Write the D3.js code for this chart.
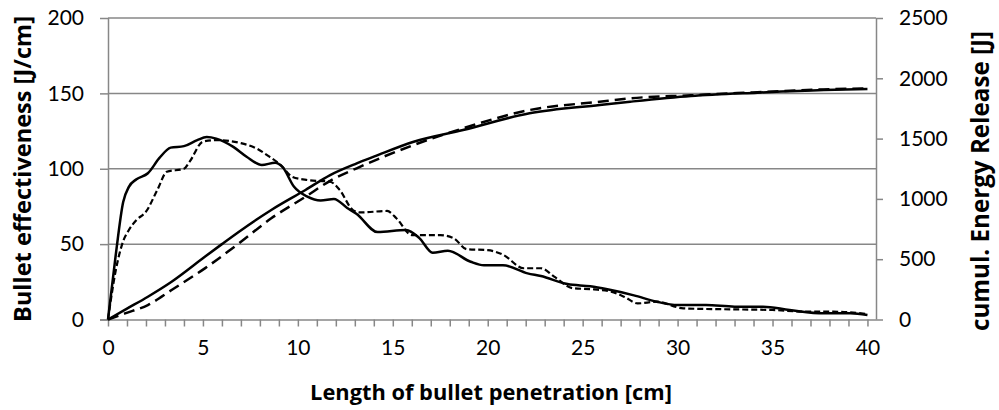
<!DOCTYPE html>
<html>
<head>
<meta charset="utf-8">
<script src="https://cdn.jsdelivr.net/npm/d3@7"></script>
<style>
  body { margin: 0; background: #fff; }
  svg text { font-family: Lato, "Open Sans", sans-serif; fill: #000; }
</style>
</head>
<body>
<div id="chart"></div>
<script>
// effectiveness [J/cm], solid curve: [depth cm, value]
var effSolid = [
    [0, 0], [0.4, 42], [0.8, 78], [1.1, 88], [1.5, 93], [2.1, 97], [2.7, 107],
    [3.3, 114], [4.0, 115], [4.7, 119], [5.2, 121], [5.7, 120], [6.6, 114.5],
    [7.3, 108], [8.1, 102.5], [8.8, 104], [9.2, 101], [9.8, 88], [10.5, 81.5],
    [11.2, 79], [11.9, 80], [12.6, 74], [13.1, 70], [14.2, 58], [15.7, 59.4],
    [16.4, 54], [17.1, 44.3], [17.9, 45.6], [19.1, 38.3], [19.8, 36], [20.8, 36],
    [22.1, 30.6], [22.8, 28.8], [24.2, 23.5], [25.4, 22], [26.3, 20], [27.7, 16],
    [28.9, 11.8], [30, 9.6], [31.5, 9.6], [33, 8.5], [34.5, 8.5], [35.9, 6.3],
    [37.7, 4.1], [39.1, 4.1], [40, 3]
];

// effectiveness [J/cm], short-dashed curve
var effDashed = [
    [0, 0], [0.4, 32], [0.8, 52], [1.1, 59.4], [1.5, 66], [2.0, 71.5], [2.6, 86],
    [3.1, 98], [4.0, 100], [4.3, 104.7], [5.0, 118], [5.7, 119], [7.0, 117],
    [7.8, 113.6], [8.5, 108], [9.1, 102.5], [9.7, 94.7], [10.5, 92.5], [11.7, 91.4],
    [12.2, 86], [12.9, 72.6], [13.3, 71], [14.7, 72], [15.2, 67], [16, 56],
    [17.5, 56], [18.2, 54], [18.9, 46.6], [20, 46], [20.8, 43], [21.9, 34],
    [22.8, 34], [23.5, 28.4], [24.5, 20.7], [25.6, 20], [26.5, 18.5], [27.2, 15],
    [27.9, 10.7], [28.9, 11.8], [30.3, 7.4], [32.4, 6.8], [35, 6.3], [36.8, 5.2],
    [38.2, 5.2], [40, 3.6]
];

// cumulative energy release [J], solid curve
var cumSolid = [
    [0, 0], [1, 90], [2.1, 189], [3.35, 313], [5.1, 520], [6.0, 625], [6.9, 728],
    [8.6, 908], [10.4, 1074], [11.7, 1198], [13.1, 1295], [14, 1350], [16.1, 1474],
    [18.7, 1571], [22.2, 1710], [25.9, 1779], [27.5, 1806], [30.7, 1853],
    [34.2, 1881], [37.7, 1903], [40, 1911]
];

// cumulative energy release [J], long-dashed curve
var cumDashed = [
    [0, 0], [0.9, 51], [2.1, 120], [3.35, 245], [5.1, 424], [6.9, 632], [8.6, 839],
    [10.4, 1018], [11.7, 1150], [13.1, 1254], [16.1, 1447], [18.7, 1585],
    [22.2, 1737], [25.9, 1806], [27.5, 1834], [30.7, 1859], [34.2, 1885],
    [37.7, 1908], [40, 1917]
];

var xLabels = [0, 5, 10, 15, 20, 25, 30, 35, 40];
var leftTicks = [0, 50, 100, 150, 200];
var rightTicks = [0, 500, 1000, 1500, 2000, 2500];

var W = 999, H = 410;
var plotL = 108, plotR = 876, plotT = 18, plotB = 319.5;

var svg = d3.select("#chart").append("svg")
    .attr("width", W)
    .attr("height", H);

var x = d3.scaleLinear().domain([0, 40.45]).range([plotL, plotR]);
var yL = d3.scaleLinear().domain([0, 200]).range([plotB, plotT]);
var yR = d3.scaleLinear().domain([0, 2500]).range([plotB, plotT]);

var grey = "#878787";

// horizontal gridlines
svg.append("g")
    .selectAll("line")
    .data(leftTicks.slice(1))
    .enter().append("line")
    .attr("x1", plotL).attr("x2", plotR)
    .attr("y1", function (d) { return yL(d); })
    .attr("y2", function (d) { return yL(d); })
    .attr("stroke", grey)
    .attr("stroke-width", 1.5);

// left axis
var axL = svg.append("g")
    .attr("transform", "translate(" + plotL + ",0)")
    .call(d3.axisLeft(yL).tickValues(leftTicks).tickSize(8).tickPadding(16));

// right axis
var axR = svg.append("g")
    .attr("transform", "translate(" + plotR + ",0)")
    .call(d3.axisRight(yR).tickValues(rightTicks).tickFormat(d3.format("d"))
        .tickSize(7).tickPadding(16));

// x axis, minor ticks every cm
var axX = svg.append("g")
    .attr("transform", "translate(0," + plotB + ")")
    .call(d3.axisBottom(x).tickValues(d3.range(0, 41)).tickSize(7)
        .tickFormat(function (d) { return xLabels.indexOf(d) >= 0 ? d : ""; })
        .tickPadding(14));

[axL, axR, axX].forEach(function (a) {
    a.select(".domain").attr("stroke", grey).attr("stroke-width", 1.5);
    a.selectAll(".tick line").attr("stroke", grey).attr("stroke-width", 1.5);
    a.selectAll(".tick text").style("font-size", "21px").style("font-family", "Lato");
});
axX.select(".domain").attr("d", "M" + (plotL - 8) + ",0.5H" + plotR);
axL.select(".domain").attr("d", "M0.5," + plotT + "V" + plotB);
axR.select(".domain").attr("d", "M0.5," + plotT + "V" + plotB);

// curves
function drawLine(data, scale, dash, width) {
    var line = d3.line()
        .x(function (d) { return x(d[0]); })
        .y(function (d) { return scale(d[1]); })
        .curve(d3.curveMonotoneX);
    svg.append("path")
        .datum(data)
        .attr("d", line)
        .attr("fill", "none")
        .attr("stroke", "#000")
        .attr("stroke-width", width)
        .attr("stroke-dasharray", dash);
}

drawLine(cumDashed, yR, "11,6", 2.5);
drawLine(cumSolid, yR, null, 2.5);
drawLine(effDashed, yL, "6,3", 2.2);
drawLine(effSolid, yL, null, 2.5);

// axis titles, font size fitted to the width they take in the reference
function title(label, tx, ty, rot, target) {
    var t = svg.append("text")
        .attr("transform", "translate(" + tx + "," + ty + ")" + (rot ? " rotate(-90)" : ""))
        .attr("text-anchor", "middle")
        .style("font-family", "'Open Sans', sans-serif")
        .style("font-size", "18px")
        .style("font-weight", "bold")
        .text(label);
    var w = t.node().getComputedTextLength();
    t.style("font-size", (18 * target / w).toFixed(2) + "px");
}

title("Length of bullet penetration [cm]", 491, 400, false, 362);
title("Bullet effectiveness [J/cm]", 31, 169, true, 306);
title("cumul. Energy Release [J]", 989, 181, true, 300);
</script>
</body>
</html>
